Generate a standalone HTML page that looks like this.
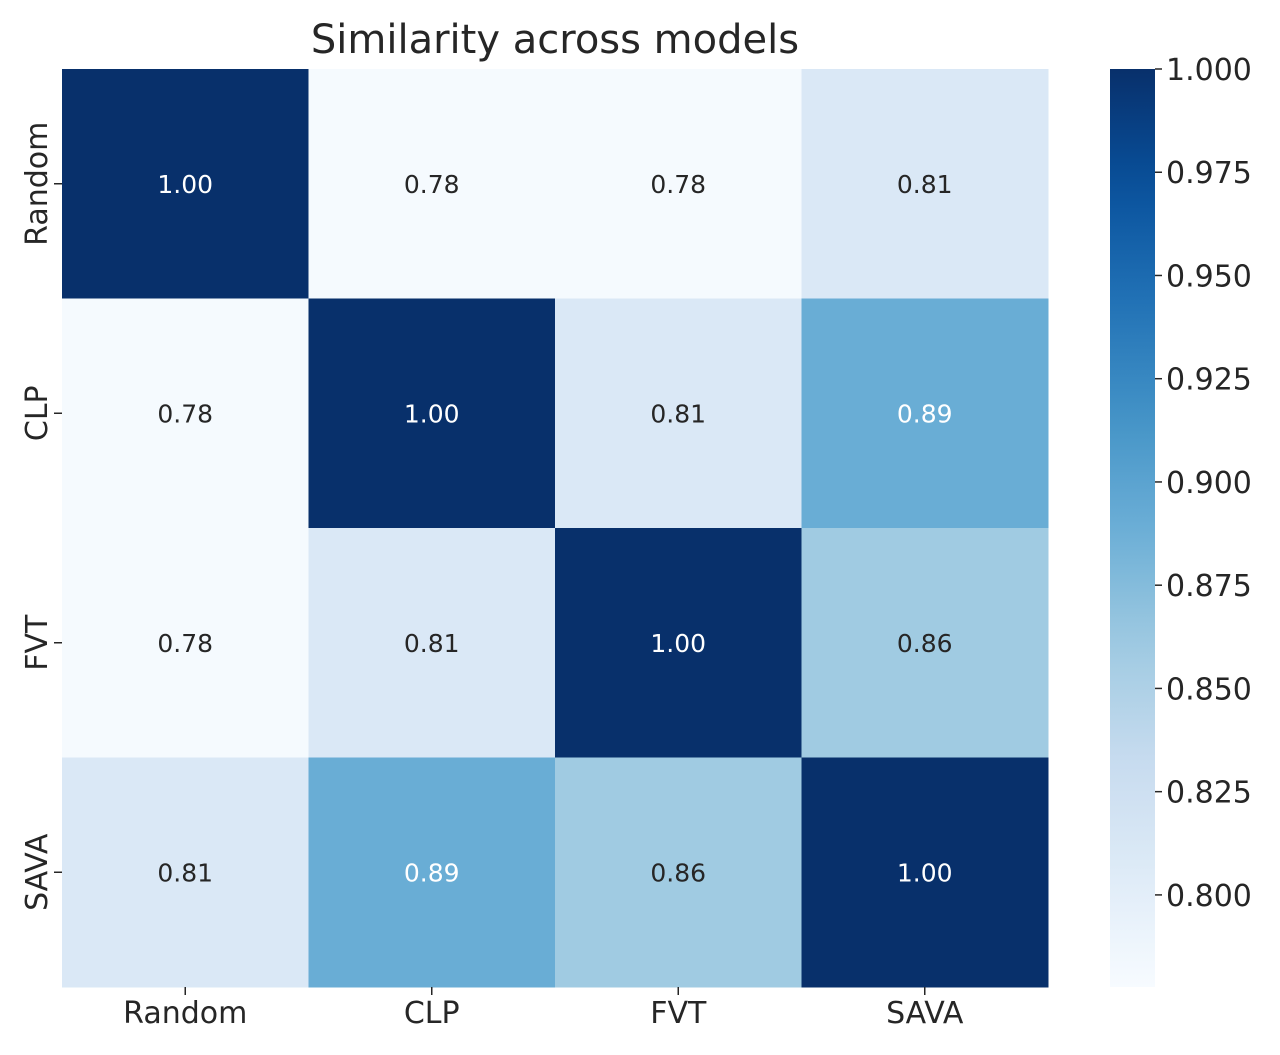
<!DOCTYPE html>
<html><head><meta charset="utf-8"><style>
body{margin:0;background:#fff;}
svg text{font-family:"DejaVu Sans","Liberation Sans",sans-serif;}
</style></head><body>
<svg id="chart" width="1280" height="1050" xmlns="http://www.w3.org/2000/svg">
<text x="555" y="53" text-anchor="middle" font-size="40" fill="#262626">Similarity across models</text>
<g id="cells"></g><g id="axes"></g><g id="cbar"></g>
</svg>
<script>
const categories = ["Random","CLP","FVT","SAVA"];
const matrix = [
 [1.00,0.78,0.78,0.81],
 [0.78,1.00,0.81,0.89],
 [0.78,0.81,1.00,0.86],
 [0.81,0.89,0.86,1.00]
];
const labels = [
 ["1.00","0.78","0.78","0.81"],
 ["0.78","1.00","0.81","0.89"],
 ["0.78","0.81","1.00","0.86"],
 ["0.81","0.89","0.86","1.00"]
];
const cbarTicks = [0.800,0.825,0.850,0.875,0.900,0.925,0.950,0.975,1.000];
const vmin = 0.7777, vmax = 1.0;

const NS="http://www.w3.org/2000/svg";
const L=62,T=69,R=1048,B=987;
const cw=(R-L)/categories.length, ch=(B-T)/categories.length;
const blues=["#f7fbff","#deebf7","#c6dbef","#9ecae1","#6baed6","#4292c6","#2171b5","#08519c","#08306b"];
function hex(h){return [1,3,5].map(i=>parseInt(h.substr(i,2),16));}
function color(v){
  let t=Math.max(0,Math.min(1,(v-vmin)/(vmax-vmin)))*(blues.length-1);
  let i=Math.min(Math.floor(t),blues.length-2), f=t-i;
  const a=hex(blues[i]),b=hex(blues[i+1]);
  return "rgb("+a.map((x,k)=>Math.round(x+(b[k]-x)*f)).join(",")+")";
}
function xs(i){return L+i*cw;}
function ys(i){return T+i*ch;}
function cy(v){return B-(v-vmin)/(vmax-vmin)*(B-T);}
function mk(tag,attrs,parent){const e=document.createElementNS(NS,tag);for(const k in attrs)e.setAttribute(k,attrs[k]);parent.appendChild(e);return e;}
const cells=document.getElementById('cells'),axes=document.getElementById('axes'),cbar=document.getElementById('cbar');
matrix.forEach((row,r)=>row.forEach((v,c)=>{
  const rect=mk('rect',{x:xs(c),y:ys(r),width:cw+0.5,height:ch+0.5,fill:color(v)},cells);
  
  
  const t=mk('text',{x:xs(c)+cw/2,y:ys(r)+ch/2+9,'text-anchor':'middle','font-size':25,fill:(v-vmin)/(vmax-vmin)>0.45?'#ffffff':'#262626'},cells);
  t.textContent=labels[r][c];
  
  
}));
categories.forEach((name,i)=>{
  const x=xs(i)+cw/2;
  mk('line',{x1:x,x2:x,y1:B,y2:B+8,stroke:'#262626','stroke-width':1.5},axes);
  const t=mk('text',{x:x,y:B+36,'text-anchor':'middle','font-size':30,fill:'#262626'},axes);
  t.textContent=name;
  
  
  const y=ys(i)+ch/2;
  mk('line',{x1:L-8,x2:L,y1:y,y2:y,stroke:'#262626','stroke-width':1.5},axes);
  const ty=mk('text',{x:0,y:0,'text-anchor':'middle','font-size':30,fill:'#262626',transform:'translate(47,'+y+') rotate(-90)'},axes);
  ty.textContent=name;
  
  
});
const defs=mk('defs',{},cbar);
const g=mk('linearGradient',{id:'cg',x1:0,y1:1,x2:0,y2:0},defs);
for(let k=0;k<=20;k++){const v=vmin+(vmax-vmin)*k/20;mk('stop',{offset:k/20,'stop-color':color(v)},g);}
const bar=mk('rect',{x:1110,y:T,width:45,height:B-T,fill:'url(#cg)'},cbar);


cbarTicks.forEach(v=>{
  const y=cy(v);
  mk('line',{x1:1155,x2:1162,y1:y,y2:y,stroke:'#262626','stroke-width':1.5},cbar);
  const t=mk('text',{x:1166,y:y+11,'font-size':30,fill:'#262626'},cbar);
  t.textContent=v.toFixed(3);
  
  
});
</script>
</body></html>
